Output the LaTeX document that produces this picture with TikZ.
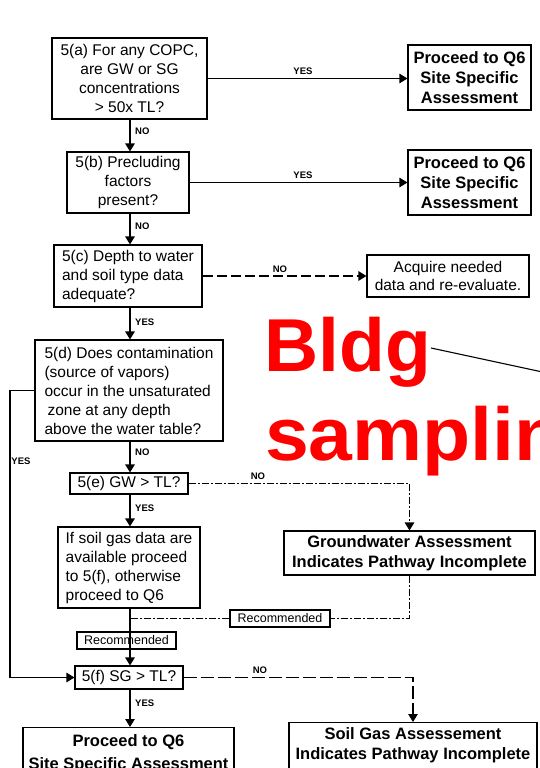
\documentclass[tikz,border=0pt]{standalone}
\usepackage{fontspec}
\setmainfont{Liberation Sans}
\usetikzlibrary{arrows.meta,calc}
\begin{document}
\begin{tikzpicture}[x=1pt,y=-1pt,
  box/.style={draw,line width=1.1pt,inner sep=2pt,font=\fontsize{15.5}{19}\selectfont},
  bbox/.style={draw,line width=1.1pt,inner sep=2pt,font=\fontsize{16.5}{20}\selectfont\bfseries,align=center},
  smallbox/.style={draw,line width=1.1pt,inner sep=1pt,font=\fontsize{12.5}{14}\selectfont},
  lab/.style={font=\fontsize{9.5}{10}\selectfont\bfseries,inner sep=0pt},
  conn/.style={line width=1.2pt},
  arr/.style={conn,-{Triangle[length=8pt,width=9.5pt]}},
  dashA/.style={dash pattern=on 10pt off 4pt},
  dashB/.style={dash pattern=on 7pt off 2pt on 2pt off 2pt},
  dashC/.style={dash pattern=on 13pt off 4pt},
  redtext/.style={anchor=base west,inner sep=0pt,text=red,font=\fontsize{75}{80}\selectfont\bfseries}
]
\path[use as bounding box,clip] (0,0) rectangle (540,768);

% left column
\node[box,align=center,minimum width=155pt,minimum height=81pt] (a) at (129.5,78.5)
  {5(a) For any COPC,\\are GW or SG\\concentrations\\> 50x TL?};
\node[box,align=center,minimum width=122pt,minimum height=61pt] (b) at (128,182.5)
  {5(b) Precluding\\factors\\present?};
\node[box,align=left,minimum width=148pt,minimum height=62pt] (c) at (128,276)
  {5(c) Depth to water\\and soil type data\\adequate?};
\node[box,align=left,minimum width=188pt,minimum height=101pt] (d) at (129,390.5)
  {5(d) Does contamination\\(source of vapors)\\occur in the unsaturated\\\hspace{3pt}zone at any depth\\above the water table?};
\node[box,minimum width=118pt,minimum height=21pt,inner sep=0pt] (e) at (129,483.5) {5(e) GW > TL?};
\node[box,align=left,minimum width=142pt,minimum height=81pt] (s) at (129,567.5)
  {If soil gas data are\\available proceed\\to 5(f), otherwise\\proceed to Q6};
\node[smallbox,minimum width=99pt,minimum height=17pt] (r1) at (126.5,640.5) {Recommended};
\node[box,minimum width=108pt,minimum height=23pt,inner sep=0pt] (f) at (129,677.5) {5(f) SG > TL?};
\node[bbox,anchor=north,minimum width=211pt,inner ysep=7pt] (p3) at (128.5,727)
  {Proceed to Q6\\[3pt]Site Specific Assessment\\[4pt]};

% right column
\node[bbox,minimum width=123pt,minimum height=65pt] (q1) at (469.5,77.5)
  {Proceed to Q6\\Site Specific\\Assessment};
\node[bbox,minimum width=123pt,minimum height=65pt] (q2) at (469.5,182.5)
  {Proceed to Q6\\Site Specific\\Assessment};
\node[box,align=center,minimum width=162pt,minimum height=42pt,font=\fontsize{15.5}{18}\selectfont] (acq) at (448,276)
  {Acquire needed\\data and re-evaluate.};
\node[bbox,minimum width=251pt,minimum height=44pt] (gw) at (409.5,553)
  {Groundwater Assessment\\Indicates Pathway Incomplete};
\node[smallbox,minimum width=100pt,minimum height=17pt] (r2) at (280,618.5) {Recommended};
\node[bbox,anchor=north,minimum width=248pt,inner ysep=5pt] (sg) at (413,722)
  {Soil Gas Assessement\\Indicates Pathway Incomplete\\[4pt]};

% red annotation
\node[redtext] (bldg) at (264,371) {Bldg};
\node[redtext] (samp) at (265,460) {\scalebox{1.05}[1]{sampling}};
\coordinate (tgt) at (640,393);
\draw[line width=1.1pt] ($(bldg.base east)+(0,-23)$) -- (tgt);

% vertical flow
\draw[arr] (a.south -| 130,0) -- (130,0 |- b.north);
\draw[arr] (b.south -| 130,0) -- (130,0 |- c.north);
\draw[arr] (c.south -| 130,0) -- (130,0 |- d.north);
\draw[arr] (d.south -| 130,0) -- (130,0 |- e.north);
\draw[arr] (e.south -| 130,0) -- (130,0 |- s.north);
\draw[arr] (s.south -| 130,0) -- (130,0 |- f.north);
\draw[arr] (f.south -| 130,0) -- (130,0 |- p3.north);

% horizontal flow
\draw[arr] (a.east) -- (a.east -| q1.west);
\draw[arr] (b.east) -- (b.east -| q2.west);
\draw[arr,dashA] (c.east) -- (c.east -| acq.west);
\draw[arr] (d.west) -- (10,0 |- d.west) -- (10,0 |- f.west) -- (f.west);
\draw[arr,dashB] (e.east) -- (gw.north |- e.east) -- (gw.north);
\draw[conn,dashB] (gw.south) |- (r2.east);
\draw[conn,dashB] (r2.west) -- (130,0 |- r2.west);
\draw[arr,dashC] (f.east) -- (sg.north |- f.east) -- (sg.north);

% labels
\node[lab,anchor=west] (n1) at (135,131) {NO};
\node[lab,anchor=west] (n2) at (135,226) {NO};
\node[lab,anchor=west] (y3) at (135,322) {YES};
\node[lab,anchor=west] (n4) at (135,452) {NO};
\node[lab,anchor=west] (y5) at (135,508) {YES};
\node[lab,anchor=west] (y6) at (135,703) {YES};
\node[lab] (y1) at (303,71.5) {YES};
\node[lab] (y2) at (303,175.5) {YES};
\node[lab] (n3) at (280,269.5) {NO};
\node[lab] (y4) at (21,461) {YES};
\node[lab] (n5) at (258,476.5) {NO};
\node[lab] (n6) at (260,670.5) {NO};
\end{tikzpicture}
\end{document}
